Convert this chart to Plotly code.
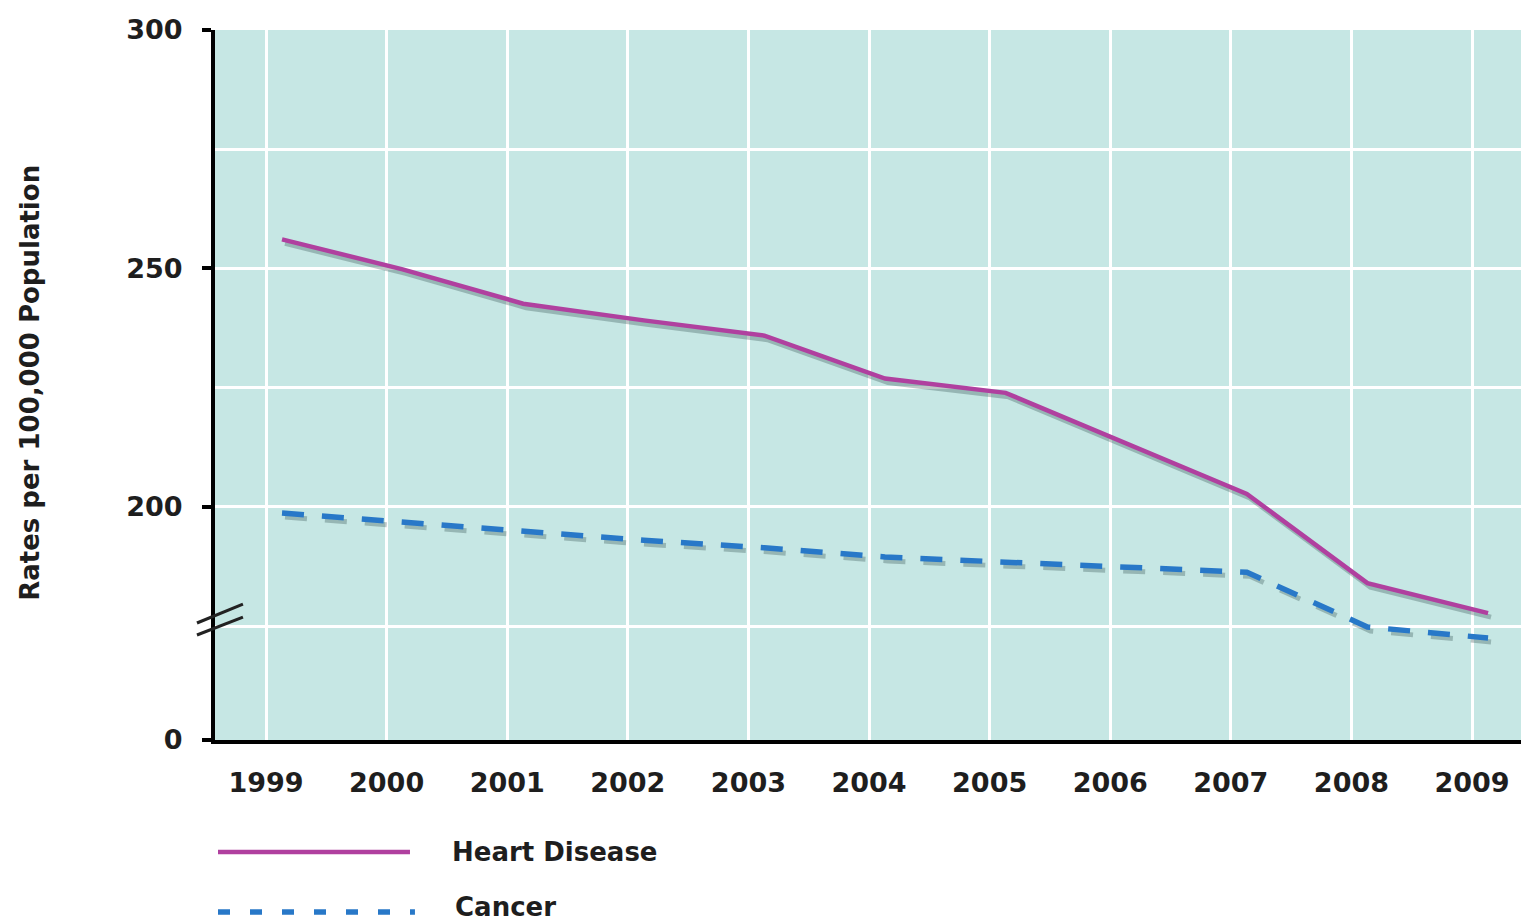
import plotly.graph_objects as go

years = [1999, 2000, 2001, 2002, 2003, 2004, 2005, 2006, 2007, 2008, 2009]
heart_disease = [256.1, 249.8, 242.6, 239.1, 235.9, 226.9, 223.9, 213.2, 202.7, 184.0, 177.7]
cancer = [198.7, 196.8, 194.7, 193.0, 191.4, 189.5, 188.4, 187.4, 186.3, 174.8, 172.5]

y_tick_text = ["0", "200", "250", "300"]
y_title = "Rates per 100,000 Population"

FONT = "DejaVu Sans"
TXT = "#1e1e1e"
HEART_C = "#b0409f"
CANCER_C = "#2878c8"
BG = "#c6e7e4"

# axis geometry (plot area 215..1521 x 30..740 px)
x_range = [1998.577, 2009.406]
y_bottom = 151.1          # shown as "0" (broken axis)
y_range = [y_bottom, 300]
px_per_year = 1306 / (x_range[1] - x_range[0])
px_per_unit = 710 / (y_range[1] - y_range[0])
data_shift = 16 / px_per_year     # lines sit a little right of the grid
sh_dx, sh_dy = 3 / px_per_year, 4 / px_per_unit

fig = go.Figure()

# invisible trace to keep base axes alive
fig.add_trace(go.Scatter(x=[years[0]], y=[y_range[1]], mode="markers",
                         marker=dict(opacity=0), showlegend=False, hoverinfo="skip"))

# drop shadows
for vals, dash in [(heart_disease, "solid"), (cancer, "22px,18px")]:
    fig.add_trace(go.Scatter(x=years, y=vals, mode="lines", xaxis="x2", yaxis="y2",
                             line=dict(color="rgba(40,70,70,0.3)", width=5, dash=dash),
                             showlegend=False, hoverinfo="skip"))

fig.add_trace(go.Scatter(x=years, y=heart_disease, mode="lines", xaxis="x3", yaxis="y3",
                         name="Heart Disease", line=dict(color=HEART_C, width=4.5),
                         showlegend=False))
fig.add_trace(go.Scatter(x=years, y=cancer, mode="lines", xaxis="x3", yaxis="y3",
                         name="Cancer", line=dict(color=CANCER_C, width=5.5, dash="22px,18px"),
                         showlegend=False))

tick_font = dict(family=FONT, size=27, color=TXT, weight="bold")

fig.update_layout(
    width=1521, height=924,
    margin=dict(l=215, r=0, t=30, b=184),
    paper_bgcolor="white",
    plot_bgcolor=BG,
    showlegend=False,
    xaxis=dict(
        range=x_range, tickvals=years, ticks="", showgrid=True,
        gridcolor="white", gridwidth=3, zeroline=False,
        showline=True, linecolor="black", linewidth=4,
        tickfont=tick_font, ticklabelstandoff=16,
    ),
    yaxis=dict(
        range=y_range, tickvals=[y_bottom, 200, 250, 300], ticktext=y_tick_text,
        ticks="outside", ticklen=9, tickwidth=4, tickcolor="black",
        showgrid=True, gridcolor="white", gridwidth=3, zeroline=False,
        showline=True, linecolor="black", linewidth=4,
        tickfont=tick_font, ticklabelstandoff=14,
        minor=dict(tickvals=[175, 225, 275], showgrid=True, gridcolor="white",
                   gridwidth=3, ticks=""),
    ),
    xaxis2=dict(overlaying="x", range=[x_range[0] - data_shift - sh_dx, x_range[1] - data_shift - sh_dx],
                visible=False),
    yaxis2=dict(overlaying="y", range=[y_range[0] + sh_dy, y_range[1] + sh_dy], visible=False),
    xaxis3=dict(overlaying="x", range=[x_range[0] - data_shift, x_range[1] - data_shift],
                visible=False),
    yaxis3=dict(overlaying="y", range=y_range, visible=False),
)

# y axis title
fig.add_annotation(text=y_title, xref="paper", yref="paper", x=-0.1417, y=0.503,
                   textangle=-90, showarrow=False, xanchor="center", yanchor="middle",
                   font=dict(family=FONT, size=26, color=TXT, weight="bold"))

# axis break marks
for y0, y1 in [(0.1648, 0.1915), (0.1479, 0.1732)]:
    fig.add_shape(type="line", xref="paper", yref="paper", x0=-0.0138, x1=0.0214,
                  y0=y0, y1=y1, line=dict(color="#222222", width=3))

# legend
fig.add_shape(type="line", xref="paper", yref="paper", x0=0.0023, x1=0.1493,
              y0=-0.1577, y1=-0.1577, line=dict(color=HEART_C, width=4.5))
fig.add_shape(type="line", xref="paper", yref="paper", x0=0.0023, x1=0.1531,
              y0=-0.2423, y1=-0.2423, line=dict(color=CANCER_C, width=5.5, dash="12px,20px"))
fig.add_annotation(text="Heart Disease", xref="paper", yref="paper", x=0.180, y=-0.1577,
                   xanchor="left", yanchor="middle", showarrow=False,
                   font=dict(family=FONT, size=26, color=TXT, weight="bold"))
fig.add_annotation(text="Cancer", xref="paper", yref="paper", x=0.182, y=-0.2352,
                   xanchor="left", yanchor="middle", showarrow=False,
                   font=dict(family=FONT, size=26, color=TXT, weight="bold"))

fig.write_html("out.html", config={"displayModeBar": False},
               post_script="document.body.style.margin='0';document.body.style.overflow='hidden';")
